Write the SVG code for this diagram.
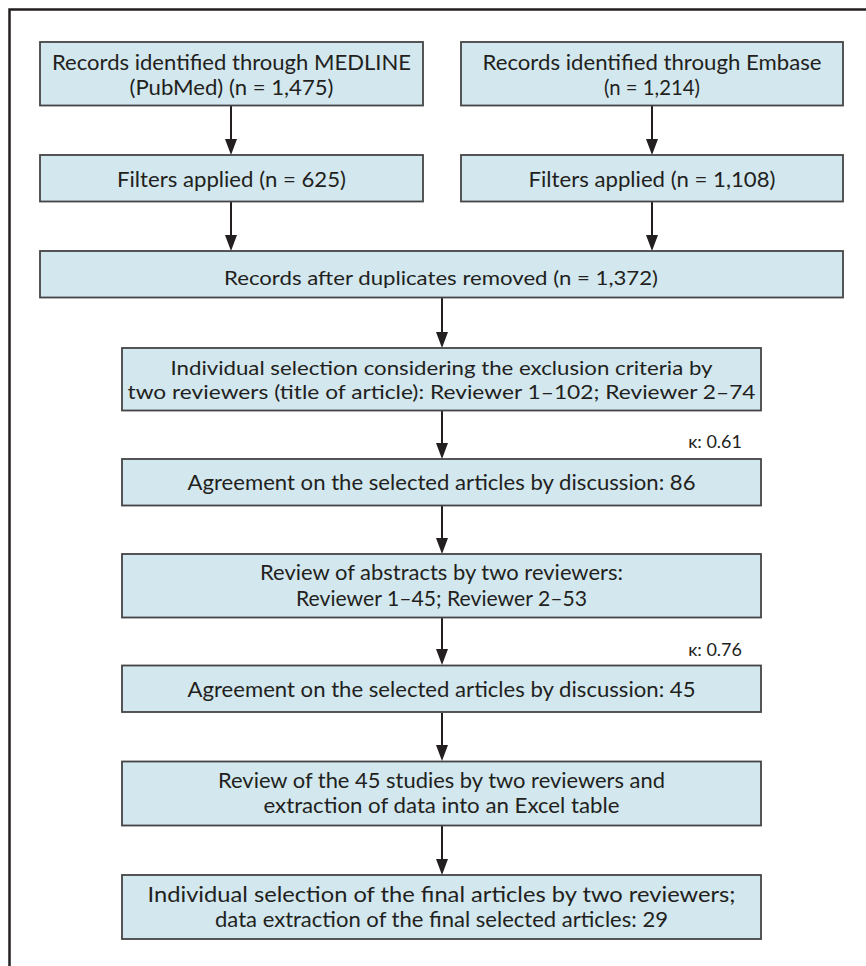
<svg xmlns="http://www.w3.org/2000/svg" width="866" height="966" viewBox="0 0 866 966">
<style>
.bg{fill:#ffffff}
.frame{fill:none;stroke:#231f20;stroke-width:2.5}
.box{fill:#d2e7ee;stroke:#444444;stroke-width:1.8}
.t{font-family:Lato,"Noto Sans","DejaVu Sans",sans-serif;font-size:22px;fill:#231f20;text-anchor:middle}
.c{font-size:20px}
.k{font-family:Lato,"Noto Sans","DejaVu Sans",sans-serif;font-size:18px;fill:#231f20;text-anchor:end}
.conn{fill:none;stroke:#231f20;stroke-width:2;marker-end:url(#ah)}
</style>
<defs>
<marker id="ah" markerUnits="userSpaceOnUse" markerWidth="16" markerHeight="12" viewBox="0 0 16 12" refX="2" refY="6" orient="auto">
<path d="M0,0 L16,6 L0,12 Z" fill="#231f20"/>
</marker>
</defs>
<rect class="bg" x="0" y="0" width="866" height="966"/>
<path class="frame" d="M9.5,966 V9.5 H866"/>

<g id="connectors">
<path class="conn" d="M231,106 V141"/>
<path class="conn" d="M652,106 V141"/>
<path class="conn" d="M231,202 V237"/>
<path class="conn" d="M652,202 V237"/>
<path class="conn" d="M442,298 V334"/>
<path class="conn" d="M442,411 V445"/>
<path class="conn" d="M442,506 V540"/>
<path class="conn" d="M442,618 V651"/>
<path class="conn" d="M442,713 V747"/>
<path class="conn" d="M442,826 V861"/>
</g>

<g id="n-medline">
<rect class="box" x="40" y="42" width="383" height="63.5"/>
<text class="t" x="231.5" y="70" textLength="359" lengthAdjust="spacingAndGlyphs">Records identified through MEDLINE</text>
<text class="t" x="231.5" y="94.5" textLength="204" lengthAdjust="spacingAndGlyphs">(PubMed) (n = 1,475)</text>
</g>

<g id="n-embase">
<rect class="box" x="461" y="42" width="382" height="63.5"/>
<text class="t" x="652" y="70" textLength="339" lengthAdjust="spacingAndGlyphs">Records identified through Embase</text>
<text class="t" x="652" y="94.5" textLength="96" lengthAdjust="spacingAndGlyphs">(n = 1,214)</text>
</g>

<g id="n-filters-medline">
<rect class="box" x="40" y="155" width="383" height="46.5"/>
<text class="t" x="231.5" y="187.3" textLength="229" lengthAdjust="spacingAndGlyphs">Filters applied (n = 625)</text>
</g>

<g id="n-filters-embase">
<rect class="box" x="461" y="155" width="382" height="46.5"/>
<text class="t" x="652" y="187.3" textLength="247" lengthAdjust="spacingAndGlyphs">Filters applied (n = 1,108)</text>
</g>

<g id="n-duplicates">
<rect class="box" x="40" y="251" width="803" height="46.5"/>
<text class="t c" x="441" y="284.5" textLength="434" lengthAdjust="spacingAndGlyphs">Records after duplicates removed (n = 1,372)</text>
</g>

<g id="n-individual">
<rect class="box" x="122" y="348" width="639" height="62.5"/>
<text class="t c" x="441.5" y="375" textLength="542" lengthAdjust="spacingAndGlyphs">Individual selection considering the exclusion criteria by</text>
<text class="t c" x="441.5" y="399" textLength="628" lengthAdjust="spacingAndGlyphs">two reviewers (title of article): Reviewer 1–102; Reviewer 2–74</text>
</g>

<text class="k" x="742" y="448">κ: 0.61</text>

<g id="n-agreement-86">
<rect class="box" x="122" y="459" width="639" height="46.5"/>
<text class="t" x="441.5" y="490" textLength="508" lengthAdjust="spacingAndGlyphs">Agreement on the selected articles by discussion: 86</text>
</g>

<g id="n-abstracts">
<rect class="box" x="122" y="554" width="639" height="63.5"/>
<text class="t" x="441.5" y="580" textLength="363" lengthAdjust="spacingAndGlyphs">Review of abstracts by two reviewers:</text>
<text class="t" x="441.5" y="605.5" textLength="291" lengthAdjust="spacingAndGlyphs">Reviewer 1–45; Reviewer 2–53</text>
</g>

<text class="k" x="742" y="656">κ: 0.76</text>

<g id="n-agreement-45">
<rect class="box" x="122" y="665.5" width="639" height="46.5"/>
<text class="t" x="441.5" y="697" textLength="508" lengthAdjust="spacingAndGlyphs">Agreement on the selected articles by discussion: 45</text>
</g>

<g id="n-review-45">
<rect class="box" x="122" y="761.5" width="639" height="64"/>
<text class="t" x="441.5" y="787.5" textLength="447" lengthAdjust="spacingAndGlyphs">Review of the 45 studies by two reviewers and</text>
<text class="t" x="441.5" y="812.5" textLength="356" lengthAdjust="spacingAndGlyphs">extraction of data into an Excel table</text>
</g>

<g id="n-final">
<rect class="box" x="122" y="875" width="639" height="64"/>
<text class="t" x="441.5" y="901.5" textLength="588" lengthAdjust="spacingAndGlyphs">Individual selection of the final articles by two reviewers;</text>
<text class="t" x="441.5" y="926.5" textLength="453" lengthAdjust="spacingAndGlyphs">data extraction of the final selected articles: 29</text>
</g>
</svg>
